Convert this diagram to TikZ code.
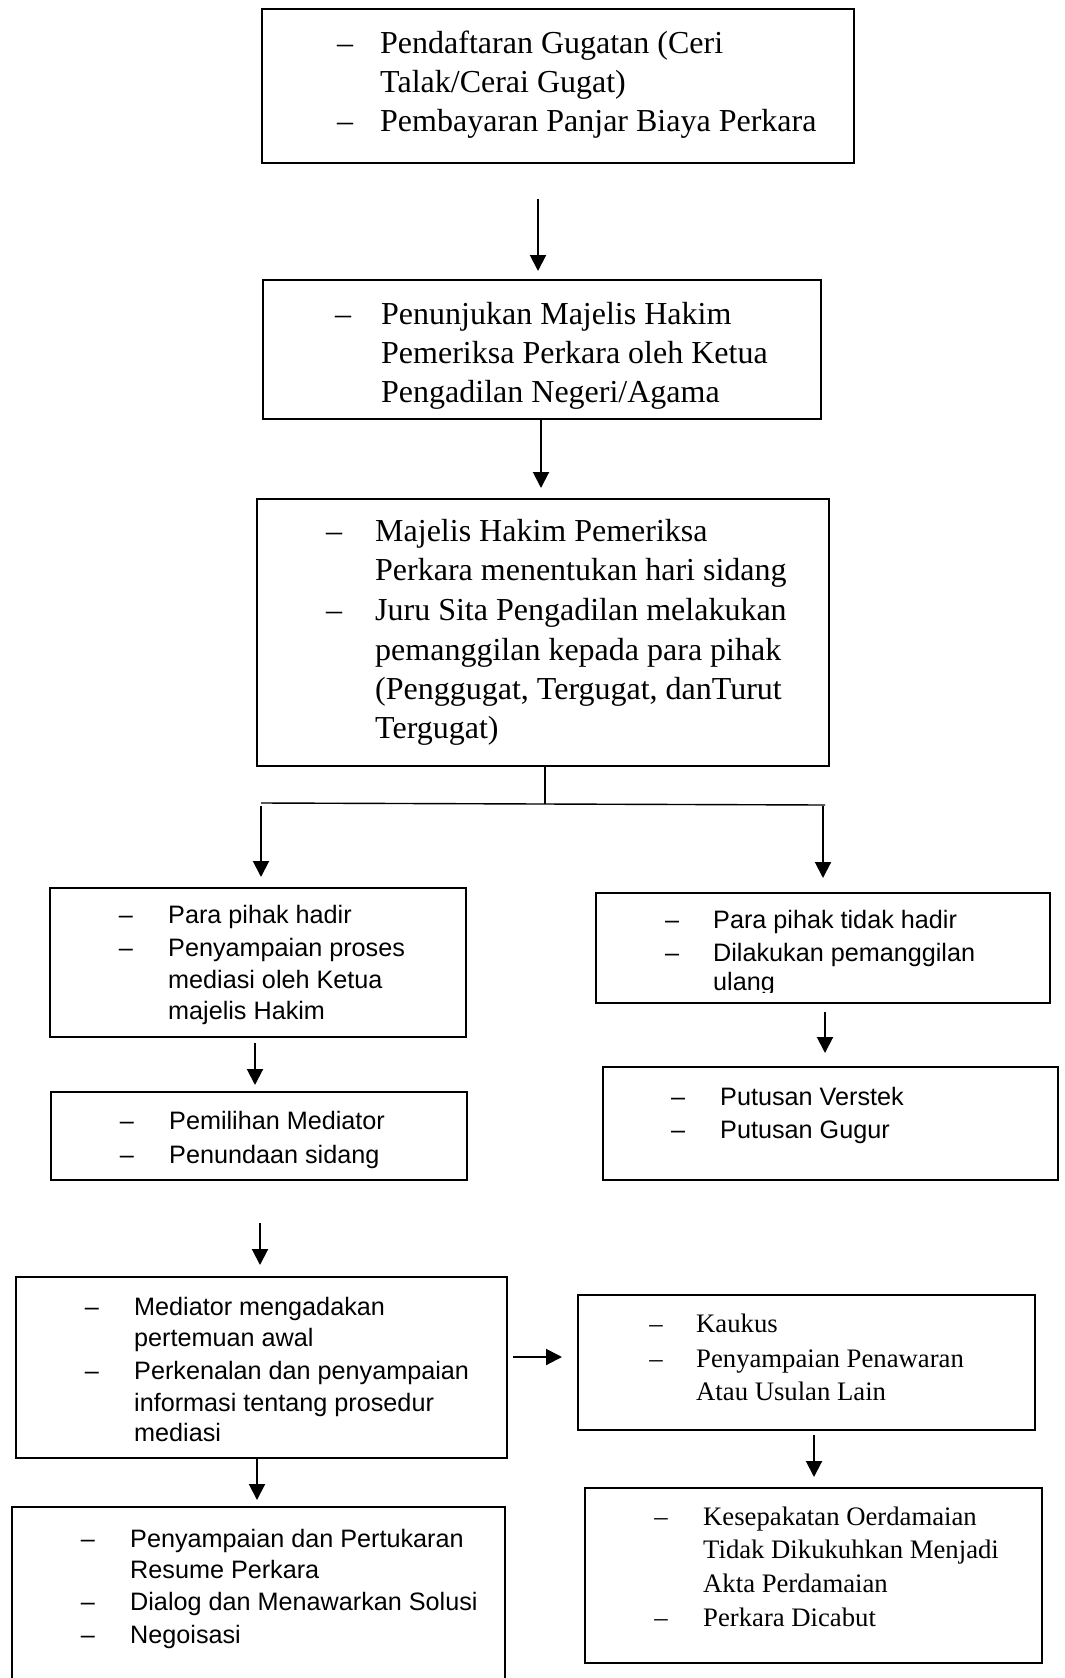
\documentclass[tikz,border=0pt]{standalone}
\usepackage{fontspec}
\setmainfont{Liberation Serif}
\setsansfont{Liberation Sans}
\usetikzlibrary{arrows.meta}
\tikzset{
  box/.style={draw, line width=1.8pt, inner sep=0pt, outer sep=0pt},
  arr/.style={line width=2pt, -{Triangle[width=16pt,length=16pt]}},
  thinln/.style={line width=1.4pt},
  bigser/.style={inner sep=0pt, anchor=base west, font=\fontsize{32}{38}\selectfont},
  bigdash/.style={inner sep=0pt, anchor=base, font=\fontsize{32}{38}\selectfont},
  sansl/.style={inner sep=0pt, anchor=base west, font=\sffamily\fontsize{25.2}{30}\selectfont},
  sansdash/.style={inner sep=0pt, anchor=base, font=\sffamily\fontsize{25.2}{30}\selectfont},
  smser/.style={inner sep=0pt, anchor=base west, font=\fontsize{26.7}{32}\selectfont},
  smdash/.style={inner sep=0pt, anchor=base, font=\fontsize{26.7}{32}\selectfont},
}
\begin{document}
\begin{tikzpicture}[x=1pt,y=-1pt]
\useasboundingbox (0,0) rectangle (1065,1678);
\clip (0,0) rectangle (1065,1678);
\fill[white] (0,0) rectangle (1065,1678);

% ---------- boxes ----------
\node[box, minimum width=592pt, minimum height=154pt] (b1) at (558,86) {};
\node[box, minimum width=558pt, minimum height=139pt] (b2) at (542,349.5) {};
\node[box, minimum width=572pt, minimum height=267pt] (b3) at (543,632.5) {};
\node[box, minimum width=416pt, minimum height=149pt] (l1) at (258,962.5) {};
\node[box, minimum width=416pt, minimum height=88pt] (l2) at (259,1136) {};
\node[box, minimum width=454pt, minimum height=110pt] (r1) at (823,948) {};
\node[box, minimum width=455pt, minimum height=113pt] (r2) at (830.5,1123.5) {};
\node[box, minimum width=491pt, minimum height=181pt] (l3) at (261.5,1367.5) {};
\node[box, minimum width=457pt, minimum height=135pt] (r3) at (806.5,1362.5) {};
\node[box, minimum width=457pt, minimum height=175pt] (r4) at (813.5,1575.5) {};
\node[box, minimum width=493pt, minimum height=193pt] (l4) at (258.5,1603.5) {};

% ---------- box 1 ----------
\node[bigdash] (d1a) at (345,53) {–};
\node[bigser] (t1a) at (380,53) {Pendaftaran Gugatan (Ceri};
\node[bigser] (t1b) at (380,92.5) {Talak/Cerai Gugat)};
\node[bigdash] (d1c) at (345,131.5) {–};
\node[bigser] (t1c) at (380,131.5) {Pembayaran Panjar Biaya Perkara};

% ---------- box 2 ----------
\node[bigdash] (d2a) at (343,324) {–};
\node[bigser] (t2a) at (381,324) {Penunjukan Majelis Hakim};
\node[bigser] (t2b) at (381,363) {Pemeriksa Perkara oleh Ketua};
\node[bigser] (t2c) at (381,402) {Pengadilan Negeri/Agama};

% ---------- box 3 ----------
\node[bigdash] (d3a) at (334,541.5) {–};
\node[bigser] (t3a) at (375,541.5) {Majelis Hakim Pemeriksa};
\node[bigser] (t3b) at (375,580.5) {Perkara menentukan hari sidang};
\node[bigdash] (d3c) at (334,620) {–};
\node[bigser] (t3c) at (375,620) {Juru Sita Pengadilan melakukan};
\node[bigser] (t3d) at (375,660) {pemanggilan kepada para pihak};
\node[bigser] (t3e) at (375,699.5) {(Penggugat, Tergugat, danTurut};
\node[bigser] (t3f) at (375,738) {Tergugat)};

% ---------- L1 ----------
\node[sansdash] (dl1a) at (126,923) {–};
\node[sansl] (tl1a) at (168,923) {Para pihak hadir};
\node[sansdash] (dl1b) at (126,956) {–};
\node[sansl] (tl1b) at (168,956) {Penyampaian proses};
\node[sansl] (tl1c) at (168,988) {mediasi oleh Ketua};
\node[sansl] (tl1d) at (168,1019) {majelis Hakim};

% ---------- L2 ----------
\node[sansdash] (dl2a) at (127,1129) {–};
\node[sansl] (tl2a) at (169,1129) {Pemilihan Mediator};
\node[sansdash] (dl2b) at (127,1163) {–};
\node[sansl] (tl2b) at (169,1163) {Penundaan sidang};

% ---------- R1 ----------
\node[sansdash] (dr1a) at (672,928) {–};
\node[sansl] (tr1a) at (713,928) {Para pihak tidak hadir};
\node[sansdash] (dr1b) at (672,961) {–};
\node[sansl] (tr1b) at (713,961) {Dilakukan pemanggilan};
\begin{scope}
\clip (600,970) rectangle (1045,992);
\node[sansl] (tr1c) at (713,990) {ulang};
\end{scope}

% ---------- R2 ----------
\node[sansdash] (dr2a) at (678,1105) {–};
\node[sansl] (tr2a) at (720,1105) {Putusan Verstek};
\node[sansdash] (dr2b) at (678,1138) {–};
\node[sansl] (tr2b) at (720,1138) {Putusan Gugur};

% ---------- L3 ----------
\node[sansdash] (dl3a) at (92,1315) {–};
\node[sansl] (tl3a) at (134,1315) {Mediator mengadakan};
\node[sansl] (tl3b) at (134,1346) {pertemuan awal};
\node[sansdash] (dl3c) at (92,1379) {–};
\node[sansl] (tl3c) at (134,1379) {Perkenalan dan penyampaian};
\node[sansl] (tl3d) at (134,1411) {informasi tentang prosedur};
\node[sansl] (tl3e) at (134,1441) {mediasi};

% ---------- R3 ----------
\node[smdash] (dr3a) at (656,1332) {–};
\node[smser] (tr3a) at (696,1332) {Kaukus};
\node[smdash] (dr3b) at (656,1367) {–};
\node[smser] (tr3b) at (696,1367) {Penyampaian Penawaran};
\node[smser] (tr3c) at (696,1400) {Atau Usulan Lain};

% ---------- R4 ----------
\node[smdash] (dr4a) at (661,1525) {–};
\node[smser] (tr4a) at (703,1525) {Kesepakatan Oerdamaian};
\node[smser] (tr4b) at (703,1558) {Tidak Dikukuhkan Menjadi};
\node[smser] (tr4c) at (703,1592) {Akta Perdamaian};
\node[smdash] (dr4d) at (661,1626) {–};
\node[smser] (tr4d) at (703,1626) {Perkara Dicabut};

% ---------- L4 ----------
\node[sansdash] (dl4a) at (88,1547) {–};
\node[sansl] (tl4a) at (130,1547) {Penyampaian dan Pertukaran};
\node[sansl] (tl4b) at (130,1578) {Resume Perkara};
\node[sansdash] (dl4c) at (88,1610) {–};
\node[sansl] (tl4c) at (130,1610) {Dialog dan Menawarkan Solusi};
\node[sansdash] (dl4d) at (88,1643) {–};
\node[sansl] (tl4d) at (130,1643) {Negoisasi};

% ---------- connectors ----------
\coordinate (a1s) at (538,199);  \coordinate (a1e) at (538,271);
\coordinate (a2s) at (541,419);  \coordinate (a2e) at (541,488);
\coordinate (jn) at (545,804);
\coordinate (hl) at (261,803);   \coordinate (hr) at (825,805);
\coordinate (a3ls) at (261,806); \coordinate (a3le) at (261,877);
\coordinate (a3rs) at (823,806); \coordinate (a3re) at (823,878);
\coordinate (al1s) at (255,1043); \coordinate (al1e) at (255,1085);
\coordinate (ar1s) at (825,1012); \coordinate (ar1e) at (825,1053);
\coordinate (al2s) at (260,1223); \coordinate (al2e) at (260,1265);
\coordinate (ahs) at (513,1357);  \coordinate (ahe) at (562,1357);
\coordinate (ar3s) at (814,1435); \coordinate (ar3e) at (814,1477);
\coordinate (al3s) at (257,1459); \coordinate (al3e) at (257,1500);

\draw[arr] (a1s) -- (a1e);
\draw[arr] (a2s) -- (a2e);
\draw[thinln] (jn |- b3.south) -- (jn);
\draw[thinln] (hl) -- (hr);
\draw[arr] (a3ls) -- (a3le);
\draw[arr] (a3rs) -- (a3re);
\draw[arr] (al1s) -- (al1e);
\draw[arr] (ar1s) -- (ar1e);
\draw[arr] (al2s) -- (al2e);
\draw[arr] (ahs) -- (ahe);
\draw[arr] (ar3s) -- (ar3e);
\draw[arr] (al3s) -- (al3e);
\end{tikzpicture}
\end{document}
